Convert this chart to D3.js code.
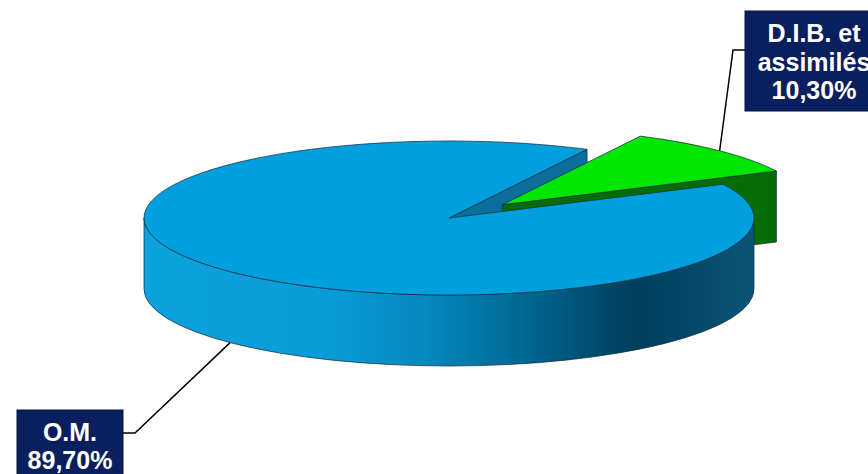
<!DOCTYPE html>
<html>
<head>
<meta charset="utf-8">
<script src="https://cdn.jsdelivr.net/npm/d3@7"></script>
<style>
  html, body { margin: 0; padding: 0; background: #ffffff; }
  svg { display: block; }
</style>
</head>
<body>
<svg id="chart" width="868" height="474"></svg>
<script>
// ---- data ----
const categories = ["O.M.", "D.I.B. et assimilés"];
const values = [89.70, 10.30];
const valueLabels = ["89,70%", "10,30%"];
const labelLines = [["O.M.", "89,70%"], ["D.I.B. et", "assimilés", "10,30%"]];
const topColors = ["#00A0DE", "#00E600"];
const cutColors = ["#0A6F9C", "#066C06"];
const explode = [0, 0.245];

// ---- geometry ----
const W = 868, H = 474;
const cx = 449, cy = 218, rx = 305, ry = 77, depth = 71;
const startDeg = 64.0;

const svg = d3.select("#chart");
const x = d3.scaleLinear().domain([-1, 1]).range([cx - rx, cx + rx]);
const y = d3.scaleLinear().domain([-1, 1]).range([cy - ry, cy + ry]);

const s0 = startDeg * Math.PI / 180;
const pie = d3.pie().sort(null).value(d => d).startAngle(s0).endAngle(s0 + 2 * Math.PI);
const arcs = pie(values);

// defs: gradient for the blue wall
const defs = svg.append("defs");
const grad = defs.append("linearGradient").attr("id", "wallBlue")
  .attr("gradientUnits", "userSpaceOnUse")
  .attr("x1", cx - rx).attr("x2", cx + rx).attr("y1", 0).attr("y2", 0);
[[0, "#0BA2DE"], [0.30, "#099CD8"], [0.46, "#0589BF"], [0.62, "#006894"],
 [0.80, "#003F5D"], [0.9, "#04486A"], [1, "#0A5677"]].forEach(([o, c]) =>
  grad.append("stop").attr("offset", o).attr("stop-color", c));
const wallFills = ["url(#wallBlue)", "#066C06"];

const slices = arcs.map((a, i) => {
  const t0 = a.startAngle - Math.PI / 2, t1 = a.endAngle - Math.PI / 2;
  const tm = (t0 + t1) / 2;
  const ox = explode[i] * Math.cos(tm), oy = explode[i] * Math.sin(tm);
  const P = (t, dz = 0) => [x(ox + Math.cos(t)), y(oy + Math.sin(t)) + dz];
  const C = (dz = 0) => [x(ox), y(oy) + dz];
  return { i, t0, t1, tm, P, C };
});

const stroke = "#10283a", sw = 0.7;

function topPath(s) {
  const c = s.C(), a = s.P(s.t0), b = s.P(s.t1);
  const large = (s.t1 - s.t0) > Math.PI ? 1 : 0;
  return `M${c}L${a}A${rx},${ry} 0 ${large} 1 ${b}Z`;
}
function cutPath(s, t) {
  const c = s.C(), p = s.P(t), cb = s.C(depth), pb = s.P(t, depth);
  return `M${c}L${p}L${pb}L${cb}Z`;
}
function wallPaths(s) {
  const out = [];
  for (let k = -1; k <= 1; k++) {
    const lo = Math.max(s.t0, 2 * Math.PI * k), hi = Math.min(s.t1, 2 * Math.PI * k + Math.PI);
    if (hi > lo) {
      const a = s.P(lo), b = s.P(hi), ab = s.P(lo, depth), bb = s.P(hi, depth);
      out.push(`M${a}A${rx},${ry} 0 0 1 ${b}L${bb}A${rx},${ry} 0 0 0 ${ab}Z`);
    }
  }
  return out;
}
function cutFaces(s) {
  const f = [];
  if (Math.cos(s.t1) > 0) f.push(s.t1);
  if (Math.cos(s.t0) < 0) f.push(s.t0);
  return f;
}

const g = svg.append("g");
const big = slices.filter(s => s.t1 - s.t0 > Math.PI);
const small = slices.filter(s => s.t1 - s.t0 <= Math.PI);

// cut faces of the large slice first
big.forEach(s => cutFaces(s).forEach(t =>
  g.append("path").attr("d", cutPath(s, t)).attr("fill", cutColors[s.i])
    .attr("stroke", stroke).attr("stroke-width", sw).attr("stroke-linejoin", "round")));
// small (exploded) slices
small.forEach(s => {
  cutFaces(s).forEach(t =>
    g.append("path").attr("d", cutPath(s, t)).attr("fill", cutColors[s.i])
      .attr("stroke", stroke).attr("stroke-width", sw).attr("stroke-linejoin", "round"));
  wallPaths(s).forEach(d => g.append("path").attr("d", d).attr("fill", wallFills[s.i])
    .attr("stroke", stroke).attr("stroke-width", sw));
  g.append("path").attr("d", topPath(s)).attr("fill", topColors[s.i])
    .attr("stroke", stroke).attr("stroke-width", sw).attr("stroke-linejoin", "round");
});
// large slice walls and top
big.forEach(s => {
  wallPaths(s).forEach(d => g.append("path").attr("d", d).attr("fill", wallFills[s.i])
    .attr("stroke", stroke).attr("stroke-width", sw));
  g.append("path").attr("d", topPath(s)).attr("fill", topColors[s.i])
    .attr("stroke", stroke).attr("stroke-width", sw).attr("stroke-linejoin", "round");
});

// ---- leader lines ----
const leader = svg.append("g").attr("fill", "none").attr("stroke", "#000").attr("stroke-width", 1.5);
// O.M.: anchor on the lower front rim
const sOM = slices[0];
const omAnchor = sOM.P(Math.PI * 0.75 + 0.015, depth);
leader.append("polyline").attr("points", [[123, 433], [135, 433], omAnchor].join(" "));
// D.I.B.: anchor on the green top rim, at the slice's middle angle
const sDIB = slices[1];
const dibAnchor = sDIB.P(sDIB.tm);
leader.append("polyline").attr("points", [[745, 50], [733, 50], dibAnchor].join(" "));

// ---- label boxes ----
const boxes = [
  { x: 17, y: 410, w: 106, h: 80, cxT: 70, base: 441, lh: 28 },
  { x: 745, y: 11, w: 139, h: 100, cxT: 814, base: 42, lh: 28.5 }
];
boxes.forEach((b, i) => {
  svg.append("rect").attr("x", b.x).attr("y", b.y).attr("width", b.w).attr("height", b.h)
    .attr("fill", "#0A1F5E").attr("stroke", "#06143c").attr("stroke-width", 1);
  const t = svg.append("text").attr("text-anchor", "middle")
    .attr("font-family", "Arial, 'Liberation Sans', sans-serif")
    .attr("font-weight", "bold").attr("font-size", 25).attr("fill", "#ffffff");
  labelLines[i].forEach((ln, j) =>
    t.append("tspan").attr("x", b.cxT).attr("y", b.base + j * b.lh).text(ln));
});
</script>
</body>
</html>
